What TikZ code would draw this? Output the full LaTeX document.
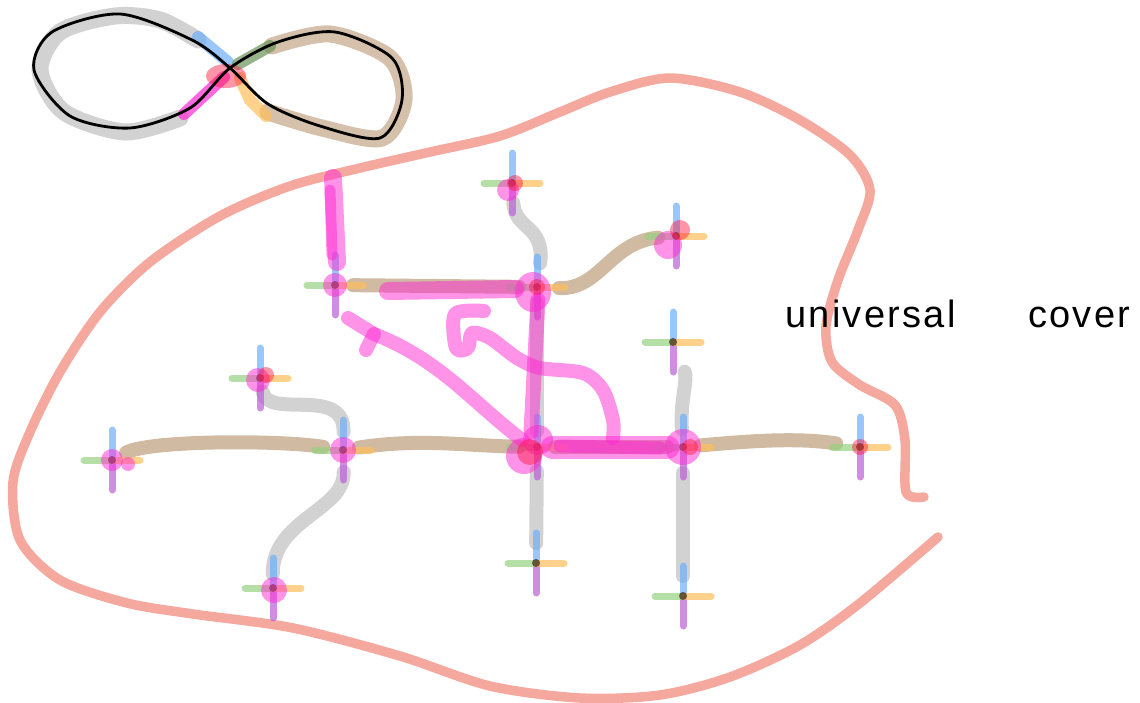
\documentclass[tikz,border=0pt]{standalone}
\usepackage{fontspec}
\setmainfont{Liberation Sans}
\usetikzlibrary{calc}

\definecolor{armblue}{RGB}{110,175,250}
\definecolor{armgreen}{RGB}{150,210,130}
\definecolor{armorange}{RGB}{255,190,90}
\definecolor{armpurple}{RGB}{185,95,215}
\definecolor{edgetan}{RGB}{208,186,162}
\definecolor{edgegrey}{RGB}{205,205,205}
\definecolor{markpink}{RGB}{255,40,210}
\definecolor{markred}{RGB}{255,20,60}
\definecolor{rimsalmon}{RGB}{245,168,158}

\tikzset{
	rim/.style={line width=9.5pt, draw=rimsalmon, line cap=round, line join=round},
	greyedge/.style={line width=14pt, draw=edgegrey, line cap=round, opacity=0.9},
	tanedge/.style={line width=14pt, draw=edgetan, line cap=round},
	crossarm/.style={line width=7pt, line cap=round, opacity=0.7},
	pinkstroke/.style={line width=15pt, draw=markpink, opacity=0.5, line cap=round, line join=round},
	pinkblob/.style={fill=markpink, opacity=0.5},
	redblob/.style={fill=markred, opacity=0.45},
}

\def\gencross(#1){%
	\begin{scope}[shift={(#1)}]
		\draw[crossarm, armblue] (0,0) -- (0,-30);
		\draw[crossarm, armpurple] (0,0) -- (0,30);
		\draw[crossarm, armgreen] (0,0) -- (-28,0);
		\draw[crossarm, armorange] (0,0) -- (28,0);
		\fill[black, opacity=0.55] (0,0) circle (4pt);
	\end{scope}}

\begin{document}
\begin{tikzpicture}[x=1pt, y=-1pt]
		%%%%% START %%%%%
		\useasboundingbox (0,0) rectangle (1140,702);
		
		% the figure eight
		\draw[line width=17pt, draw=edgegrey, line cap=round, opacity=0.9] plot[smooth] coordinates {(198,40) (160,20) (115,16) (60,32) (40,70) (64,112) (125,132) (180,118)};
		\draw[line width=17pt, draw=edgetan, line cap=round, opacity=0.9] plot[smooth] coordinates {(272,46) (330,34) (390,58) (404,100) (382,138) (322,128) (268,112)};
		\draw[crossarm, armblue, line width=12pt] (198,37) -- (228,62);
		\draw[crossarm, armgreen!70!black, line width=12pt] (238,64) -- (270,46);
		\draw[crossarm, markpink, line width=12pt] (184,114) -- (224,77);
		\draw[crossarm, armorange, line width=12pt] (240,78) -- (250,100) -- (266,116);
		\fill[redblob] (226,76) ellipse (20pt and 12pt);
		\draw[line width=2.8pt] plot[smooth cycle] coordinates {(230,68) (278,42) (335,32) (392,58) (402,100) (380,138) (320,126) (268,104) (230,68) (192,40) (120,14) (52,32) (34,70) (70,116) (130,128) (190,108)};
		
		% the big outline
		\draw[rim] plot[smooth] coordinates {(924,497) (906,492) (905,440) (895,405) (860,385) (832,362) (826,326) (838,280) (858,230) (870,190) (850,155) (800,120) (740,92) (670,78) (610,92) (560,112) (500,136) (430,152) (360,168) (290,186) (220,216) (150,262) (100,312) (60,372) (30,432) (13,482) (20,540) (60,580) (127,603) (193,614) (293,628) (400,656) (490,686) (580,698) (660,695) (730,677) (800,645) (860,603) (938,537)};
		
		% vertices
		\coordinate (id) at (537,447);
		\coordinate (a) at (683,447);
		\coordinate (aa) at (860,447);
		\coordinate (A) at (343,450);
		\coordinate (AA) at (112,460);
		\coordinate (b) at (537,287);
		\coordinate (bb) at (512,183);
		\coordinate (B) at (536,563);
		\coordinate (ab) at (673,342);
		\coordinate (aB) at (683,596);
		\coordinate (ba) at (676,236);
		\coordinate (bA) at (335,285);
		\coordinate (Ab) at (260,378);
		\coordinate (AB) at (273,588);
		
		% edges
		\draw[tanedge, shorten <=16pt, shorten >=20pt] (AA) .. controls (150,440) and (280,440) .. (A);
		\draw[tanedge, shorten <=16pt, shorten >=18pt] (A) .. controls (420,438) and (470,446) .. (id);
		\draw[tanedge, shorten <=18pt, shorten >=16pt] (id) -- (a);
		\draw[tanedge, shorten <=18pt, shorten >=24pt] (a) .. controls (760,440) and (800,438) .. (aa);
		\draw[tanedge, shorten <=18pt, shorten >=18pt] (bA) -- (b);
		\draw[tanedge, shorten <=22pt, shorten >=18pt] (b) .. controls (600,290) and (610,242) .. (ba);
		\draw[greyedge, shorten <=20pt, shorten >=24pt] (bb) .. controls (515,230) and (545,225) .. (b);
		\draw[greyedge, shorten <=16pt, shorten >=16pt] (b) -- (id);
		\draw[greyedge, shorten <=14pt, shorten >=18pt] (Ab) .. controls (268,420) and (345,385) .. (A);
		\draw[greyedge, shorten <=22pt, shorten >=14pt] (A) .. controls (345,510) and (272,520) .. (AB);
		\draw[greyedge, shorten <=24pt, shorten >=20pt] (id) -- (B);
		\draw[greyedge, shorten <=32pt, shorten >=18pt] (ab) .. controls (688,380) and (680,400) .. (a);
		\draw[greyedge, shorten <=26pt, shorten >=20pt] (a) -- (aB);
		
		% generators at every vertex
		\foreach \v in {id,a,aa,A,AA,b,bb,B,ab,aB,ba,bA,Ab,AB}
			\gencross(\v);
		
		% pink marks
		\draw[pinkstroke, line width=18pt] (333,178) -- (337,262);
		\draw[pinkstroke, line width=11pt] (330,190) -- (332,255);
		\draw[pinkstroke, line width=18pt] (388,291) -- (515,289);
		\draw[pinkstroke] (538,300) -- (531,432);
		\draw[pinkstroke, line width=23pt] (552,447) -- (668,447);
		\draw[pinkstroke, line width=13pt] (560,446) -- (660,448);
		\draw[pinkstroke, line width=14pt] (522,440) .. controls (470,400) and (440,360) .. (374,334) -- (348,318);
		\draw[pinkstroke, line width=14pt] (366,350) -- (374,334);
		\draw[pinkstroke, line width=14pt] plot[smooth] coordinates {(484,311) (455,314) (456,348) (468,348) (472,333) (490,338) (517,358) (540,368) (583,373) (603,390) (613,420) (613,438)};
		
		\fill[pinkblob] (bA) circle (12pt);
		\fill[pinkblob] (533,292) ellipse (18pt and 20pt);
		\fill[redblob] (b) circle (8pt);
		\fill[pinkblob] (508,190) circle (11pt);
		\fill[redblob] (515,183) circle (8pt);
		\fill[pinkblob] (668,245) circle (14pt);
		\fill[redblob] (680,230) circle (10pt);
		\fill[pinkblob] (524,456) circle (18pt);
		\fill[pinkblob] (538,440) circle (15pt);
		\fill[redblob] (530,452) circle (13pt);
		\fill[pinkblob] (a) circle (18pt);
		\fill[redblob] (690,447) circle (8pt);
		\fill[pinkblob] (A) circle (13pt);
		\fill[pinkblob] (AA) circle (11pt);
		\fill[pinkblob] (128,464) circle (7pt);
		\fill[pinkblob] (258,380) circle (12pt);
		\fill[redblob] (266,375) circle (8pt);
		\fill[pinkblob] (274,590) circle (13pt);
		\fill[redblob] (aa) circle (8pt);
		
		% label
		\node[anchor=base west, font=\fontsize{38}{40}\selectfont\addfontfeatures{LetterSpace=6}, inner sep=0pt] (lbluniv) at (785,327) {universal};
		\node[anchor=base west, font=\fontsize{38}{40}\selectfont\addfontfeatures{LetterSpace=6}, inner sep=0pt] (lblcover) at (1028,327) {cover};
		%%%%% END %%%%%
	\end{tikzpicture}
\end{document}
